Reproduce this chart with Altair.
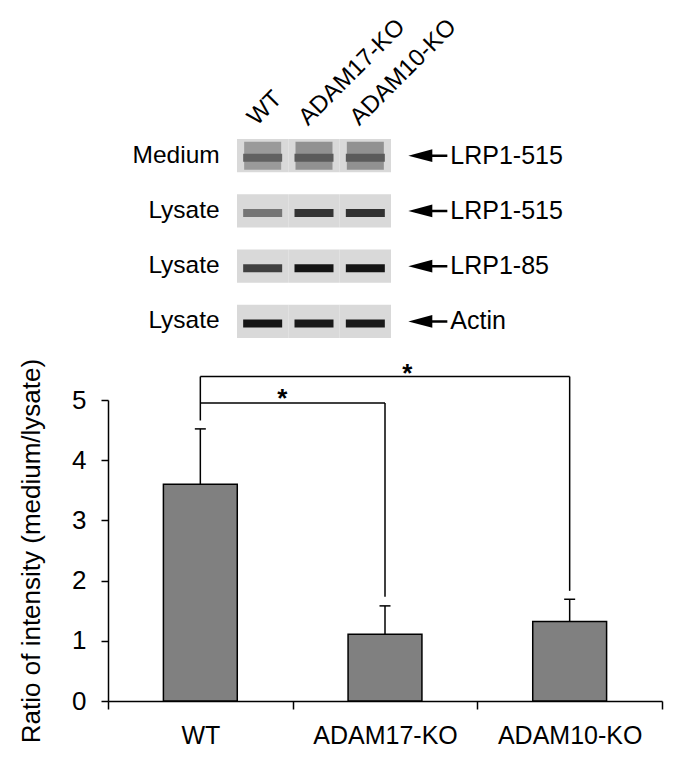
import altair as alt
import pandas as pd

FONT = "Liberation Sans"

# ---------------- bar chart data ----------------
groups = ["WT", "ADAM17-KO", "ADAM10-KO"]
means = [3.60, 1.11, 1.32]
errors = [0.92, 0.47, 0.37]

# significance brackets
br_from = ["WT", "WT"]
br_to = ["ADAM17-KO", "ADAM10-KO"]
br_level = [4.95, 5.39]
br_left_end = [4.66, 4.95]
br_right_end = [1.73, 1.83]
star_text = ["*", "*"]
star_level = [4.88, 5.30]

y_title = "Ratio of intensity (medium/lysate)"
y_ticks = [0, 1, 2, 3, 4, 5]

# ---------------- western blot data ----------------
lanes = ["WT", "ADAM17-KO", "ADAM10-KO"]
blot_rows = ["r1", "r2", "r3", "r4"]
row_left = ["Medium", "Lysate", "Lysate", "Lysate"]
row_right = ["LRP1-515", "LRP1-515", "LRP1-85", "Actin"]
band_intensity = [
    [0.55, 0.58, 0.58],
    [0.45, 0.78, 0.80],
    [0.72, 0.96, 0.96],
    [0.96, 0.94, 0.93],
]
smear_intensity = [
    [0.28, 0.32, 0.32],
    [0.0, 0.0, 0.0],
    [0.0, 0.0, 0.0],
    [0.0, 0.0, 0.0],
]

# ---------------- tables ----------------
bar_df = pd.DataFrame({"group": groups, "mean": means, "err": errors})
br_df = pd.DataFrame({
    "idx": [0, 1], "from": br_from, "to": br_to, "level": br_level,
    "left_end": br_left_end, "right_end": br_right_end,
    "star": star_text, "star_level": star_level,
})

cells = []
for i, r in enumerate(blot_rows):
    for j, ln in enumerate(lanes):
        cells.append({"row": r, "lane": ln, "band": band_intensity[i][j],
                      "smear": smear_intensity[i][j]})
cell_df = pd.DataFrame(cells)
left_df = pd.DataFrame({"row": blot_rows, "label": row_left, "lane": lanes[0]})
right_df = pd.DataFrame({"row": blot_rows, "label": row_right, "lane": lanes[-1]})

# ---------------- top: blot ----------------
xl = alt.X(
    "lane:N",
    scale=alt.Scale(domain=lanes, range=[129, 283], paddingInner=0, paddingOuter=0),
    axis=alt.Axis(orient="top", labelAngle=-45, labelAlign="left",
                  labelBaseline="alphabetic", labelOffset=-6, labelPadding=2,
                  ticks=False, domain=False, labelFontSize=24, labelFont=FONT,
                  labelColor="black"),
    title=None,
)
yr = alt.Y("row:N", scale=alt.Scale(domain=blot_rows, paddingInner=0.4, paddingOuter=0.2),
           axis=None, title=None)
gray = alt.Scale(domain=[0, 1], range=["#d9d9d9", "#0d0d0d"])

panel = alt.Chart(cell_df).mark_rect(color="#d9d9d9").encode(x=xl, y=yr)
smear = alt.Chart(cell_df).transform_filter("datum.smear > 0").mark_tick(
    orient="horizontal", thickness=28, size=37, opacity=1
).encode(x=xl, y=yr, color=alt.Color("smear:Q", scale=gray, legend=None))
band = alt.Chart(cell_df).mark_tick(
    orient="horizontal", thickness=8, size=39, yOffset=2, opacity=1
).encode(x=xl, y=yr, color=alt.Color("band:Q", scale=gray, legend=None))
left_txt = alt.Chart(left_df).mark_text(
    align="right", baseline="middle", dx=-43, fontSize=24.5, font=FONT, color="black"
).encode(x=xl, y=yr, text="label:N")
right_txt = alt.Chart(right_df).mark_text(
    align="left", baseline="middle", dx=85, fontSize=25, font=FONT, color="black"
).encode(x=xl, y=yr, text="label:N")
arrow_line = alt.Chart(right_df).mark_rule(
    xOffset=50, x2Offset=82, strokeWidth=2.5, color="black"
).encode(x=xl, x2="lane:N", y=yr)
arrow_head = alt.Chart(right_df).mark_point(
    shape="M -1 0 L 1 -0.54 L 1 0.54 Z", size=576, filled=True, color="black",
    opacity=1, xOffset=55
).encode(x=xl, y=yr)

top = alt.layer(panel, smear, band, left_txt, right_txt, arrow_line, arrow_head).properties(
    width=554, height=221
)

# ---------------- bottom: bar chart ----------------
xb_axis = alt.Axis(labelAngle=0, tickBand="extent", tickSize=8, labelPadding=14,
                   labelFontSize=25, domainWidth=1.5, tickWidth=1.5)
def xb(field):
    return alt.X(field, type="nominal",
                 scale=alt.Scale(domain=groups, paddingInner=0, paddingOuter=0),
                 axis=xb_axis, title=None)

yb_axis = alt.Axis(values=y_ticks, tickSize=7, labelPadding=15, labelFontSize=26,
                   titleFontSize=26, titleFontWeight="normal", titlePadding=27,
                   domainWidth=1.5, tickWidth=1.5, grid=False)
def yq(field):
    return alt.Y(field, type="quantitative",
                 scale=alt.Scale(domain=[0, 5], nice=False, zero=True),
                 axis=yb_axis, title=y_title)

bars = alt.Chart(bar_df).mark_bar(
    width=alt.RelativeBandSize(0.4), fill="#808080", stroke="black", strokeWidth=1.5
).encode(x=xb("group"), y=yq("mean"))
err_base = alt.Chart(bar_df).transform_calculate(upper="datum.mean + datum.err")
err_rule = err_base.mark_rule(strokeWidth=1.5, color="black").encode(
    x=xb("group"), y=yq("mean"), y2="upper:Q")
err_cap = err_base.mark_tick(orient="horizontal", size=11, thickness=1.5,
                             color="black", opacity=1).encode(x=xb("group"), y=yq("upper"))

br_h = alt.Chart(br_df).mark_rule(strokeWidth=1.5, color="black").encode(
    x=xb("from"), x2="to:N", y=yq("level"))
br_l = alt.Chart(br_df).mark_rule(strokeWidth=1.5, color="black").encode(
    x=xb("from"), y=yq("level"), y2="left_end:Q")
br_r = alt.Chart(br_df).mark_rule(strokeWidth=1.5, color="black").encode(
    x=xb("to"), y=yq("level"), y2="right_end:Q")
star1 = alt.Chart(br_df).transform_filter("datum.idx == 0").mark_text(
    fontSize=26, fontWeight="bold", font=FONT, baseline="alphabetic", dx=82, color="black"
).encode(x=xb("from"), y=yq("star_level"), text="star:N")
star2 = alt.Chart(br_df).transform_filter("datum.idx == 1").mark_text(
    fontSize=26, fontWeight="bold", font=FONT, baseline="alphabetic", dx=207, color="black"
).encode(x=xb("from"), y=yq("star_level"), text="star:N")

bottom = alt.layer(bars, err_rule, err_cap, br_h, br_l, br_r, star1, star2).properties(
    width=554, height=301
)

chart = alt.vconcat(top, bottom, spacing=9).properties(
    padding={"left": 10, "top": 6, "right": 5, "bottom": 5},
    background="white",
).configure_view(stroke=None).configure_axis(
    labelFont=FONT, titleFont=FONT, labelColor="black", titleColor="black",
    domainColor="black", tickColor="black", grid=False,
).configure_text(font=FONT)

chart.save("out.html", embed_options={"renderer": "svg", "actions": False})
